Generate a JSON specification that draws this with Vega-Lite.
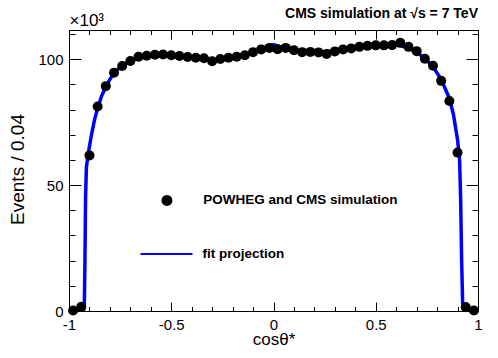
{
  "$schema": "https://vega.github.io/schema/vega-lite/v6.json",
  "width": 409,
  "height": 281,
  "autosize": {"type": "none"},
  "padding": {"left": 69, "top": 30, "right": 20, "bottom": 47},
  "background": "white",
  "config": {
    "font": "Liberation Sans",
    "view": {"stroke": "black", "strokeWidth": 1},
    "axis": {
      "domainColor": "black",
      "tickColor": "black",
      "labelColor": "black",
      "titleColor": "black",
      "grid": false,
      "labelFont": "Liberation Sans",
      "titleFont": "Liberation Sans",
      "labelOverlap": false,
      "labelFlush": false,
      "labelBound": false
    }
  },
  "title": {
    "text": "CMS simulation at √s = 7 TeV",
    "anchor": "end",
    "frame": "group",
    "font": "Liberation Sans",
    "fontSize": 14,
    "fontWeight": "bold",
    "color": "black",
    "offset": -10
  },
  "datasets": {
    "hist": [
      {"c": -0.98, "v": 0.2}, {"c": -0.94, "v": 1.7}, {"c": -0.90, "v": 61.8}, {"c": -0.86, "v": 81.2},
      {"c": -0.82, "v": 89.3}, {"c": -0.78, "v": 94.6}, {"c": -0.74, "v": 97.3}, {"c": -0.70, "v": 99.3},
      {"c": -0.66, "v": 101.0}, {"c": -0.62, "v": 101.4}, {"c": -0.58, "v": 101.8}, {"c": -0.54, "v": 101.9},
      {"c": -0.50, "v": 101.6}, {"c": -0.46, "v": 101.3}, {"c": -0.42, "v": 100.9}, {"c": -0.38, "v": 100.6},
      {"c": -0.34, "v": 100.4}, {"c": -0.30, "v": 99.2}, {"c": -0.26, "v": 100.1}, {"c": -0.22, "v": 100.6},
      {"c": -0.18, "v": 101.0}, {"c": -0.14, "v": 101.6}, {"c": -0.10, "v": 102.8}, {"c": -0.06, "v": 103.9},
      {"c": -0.02, "v": 104.5}, {"c": 0.02, "v": 104.0}, {"c": 0.06, "v": 104.5}, {"c": 0.10, "v": 103.6},
      {"c": 0.14, "v": 102.8}, {"c": 0.18, "v": 102.9}, {"c": 0.22, "v": 102.7}, {"c": 0.26, "v": 102.1},
      {"c": 0.30, "v": 103.1}, {"c": 0.34, "v": 103.9}, {"c": 0.38, "v": 104.3}, {"c": 0.42, "v": 104.9},
      {"c": 0.46, "v": 105.3}, {"c": 0.50, "v": 105.5}, {"c": 0.54, "v": 105.5}, {"c": 0.58, "v": 105.6},
      {"c": 0.62, "v": 106.5}, {"c": 0.66, "v": 104.9}, {"c": 0.70, "v": 103.2}, {"c": 0.74, "v": 100.2},
      {"c": 0.78, "v": 97.4}, {"c": 0.82, "v": 91.4}, {"c": 0.86, "v": 83.4}, {"c": 0.90, "v": 62.9},
      {"c": 0.94, "v": 1.6}, {"c": 0.98, "v": 0.2}
    ],
    "fit": [
      {"c": -1.0, "v": 0}, {"c": -0.93, "v": 0}, {"c": -0.925, "v": 2}, {"c": -0.922, "v": 20},
      {"c": -0.919, "v": 45}, {"c": -0.915, "v": 57}, {"c": -0.905, "v": 63}, {"c": -0.89, "v": 70},
      {"c": -0.875, "v": 76}, {"c": -0.86, "v": 80.5}, {"c": -0.84, "v": 85.5}, {"c": -0.82, "v": 89},
      {"c": -0.80, "v": 92}, {"c": -0.78, "v": 94.5}, {"c": -0.74, "v": 97.5}, {"c": -0.70, "v": 99.5},
      {"c": -0.66, "v": 100.7}, {"c": -0.60, "v": 101.3}, {"c": -0.50, "v": 101.3}, {"c": -0.40, "v": 100.7},
      {"c": -0.30, "v": 99.8}, {"c": -0.20, "v": 100.8}, {"c": -0.10, "v": 102.8}, {"c": -0.05, "v": 104.3},
      {"c": 0.0, "v": 105.8}, {"c": 0.05, "v": 104.5}, {"c": 0.10, "v": 103.5}, {"c": 0.20, "v": 102.8},
      {"c": 0.30, "v": 103.3}, {"c": 0.40, "v": 104.5}, {"c": 0.50, "v": 105.3}, {"c": 0.58, "v": 105.6},
      {"c": 0.62, "v": 105.4}, {"c": 0.66, "v": 104.4}, {"c": 0.70, "v": 102.8}, {"c": 0.74, "v": 100.3},
      {"c": 0.78, "v": 97}, {"c": 0.82, "v": 92}, {"c": 0.86, "v": 84.5}, {"c": 0.88, "v": 78},
      {"c": 0.90, "v": 68}, {"c": 0.91, "v": 60}, {"c": 0.915, "v": 45}, {"c": 0.92, "v": 20},
      {"c": 0.925, "v": 3}, {"c": 0.93, "v": 0}, {"c": 1.0, "v": 0}
    ]
  },
  "layer": [
    {
      "data": {"name": "fit"},
      "mark": {"type": "line", "strokeWidth": 3.5, "clip": true},
      "encoding": {
        "x": {
          "field": "c", "type": "quantitative",
          "scale": {"domain": [-1, 1], "nice": false, "zero": false},
          "axis": {
            "orient": "top",
            "values": [-1, -0.9, -0.8, -0.7, -0.6, -0.5, -0.4, -0.3, -0.2, -0.1, 0, 0.1, 0.2, 0.3, 0.4, 0.5, 0.6, 0.7, 0.8, 0.9, 1],
            "labels": false,
            "tickSize": {"condition": {"test": "abs(datum.value*2 - round(datum.value*2)) < 0.001", "value": -9}, "value": -4.5},
            "title": "×10³",
            "titleX": 0,
            "titleY": -5,
            "titleAlign": "left",
            "titleAngle": 0,
            "titleBaseline": "alphabetic",
            "titleFontSize": 17,
            "titleFontWeight": "normal"
          }
        },
        "y": {
          "field": "v", "type": "quantitative",
          "scale": {"domain": [0, 111.6], "nice": false, "zero": false},
          "axis": {
            "orient": "right",
            "values": [0, 10, 20, 30, 40, 50, 60, 70, 80, 90, 100, 110],
            "labels": false,
            "title": null,
            "tickSize": {"condition": {"test": "datum.value % 50 === 0", "value": -12}, "value": -6}
          }
        },
        "stroke": {
          "datum": "fit projection", "type": "nominal",
          "scale": {"range": ["#0000ff"]},
          "legend": {
            "orient": "none",
            "legendX": 70.5,
            "legendY": 197,
            "title": null,
            "padding": 0,
            "symbolType": "stroke",
            "symbolSize": 2704,
            "symbolStrokeWidth": 2,
            "labelOffset": 9,
            "labelLimit": 300,
            "labelFont": "Liberation Sans",
            "labelFontSize": 13.5,
            "labelFontWeight": "bold",
            "labelColor": "black"
          }
        }
      }
    },
    {
      "data": {"name": "hist"},
      "mark": {"type": "point", "filled": true, "size": 100, "opacity": 1, "shape": "circle"},
      "encoding": {
        "x": {
          "field": "c", "type": "quantitative",
          "axis": {
            "orient": "bottom",
            "values": [-1, -0.9, -0.8, -0.7, -0.6, -0.5, -0.4, -0.3, -0.2, -0.1, 0, 0.1, 0.2, 0.3, 0.4, 0.5, 0.6, 0.7, 0.8, 0.9, 1],
            "labelExpr": "abs(datum.value*2 - round(datum.value*2)) < 0.001 ? replace(format(datum.value, '.1~f'), '−', '-') : ''",
            "tickSize": {"condition": {"test": "abs(datum.value*2 - round(datum.value*2)) < 0.001", "value": -9}, "value": -4.5},
            "labelPadding": 15,
            "labelFontSize": 15,
            "title": "cosθ*",
            "titleFontSize": 17,
            "titleFontWeight": "normal",
            "titleBaseline": "alphabetic",
            "titleY": 33
          }
        },
        "y": {
          "field": "v", "type": "quantitative",
          "axis": {
            "orient": "left",
            "values": [0, 10, 20, 30, 40, 50, 60, 70, 80, 90, 100, 110],
            "labelExpr": "datum.value % 50 === 0 ? datum.label : ''",
            "tickSize": {"condition": {"test": "datum.value % 50 === 0", "value": -12}, "value": -6},
            "labelPadding": 18,
            "labelFontSize": 15,
            "title": "Events / 0.04",
            "titleFontSize": 19,
            "titleFontWeight": "normal",
            "titleBaseline": "alphabetic",
            "titleX": -45.7,
            "titleY": 139,
            "titleAlign": "center",
            "titleAngle": -90
          }
        },
        "fill": {
          "datum": "POWHEG and CMS simulation", "type": "nominal",
          "scale": {"range": ["black"]},
          "legend": {
            "orient": "none",
            "legendX": 91.2,
            "legendY": 163.7,
            "title": null,
            "padding": 0,
            "symbolType": "circle",
            "symbolSize": 120,
            "symbolStrokeWidth": 0,
            "symbolFillColor": "black",
            "labelOffset": 29.5,
            "labelLimit": 300,
            "labelFont": "Liberation Sans",
            "labelFontSize": 13.5,
            "labelFontWeight": "bold",
            "labelColor": "black"
          }
        }
      }
    }
  ],
  "resolve": {"axis": {"x": "independent", "y": "independent"}}
}
